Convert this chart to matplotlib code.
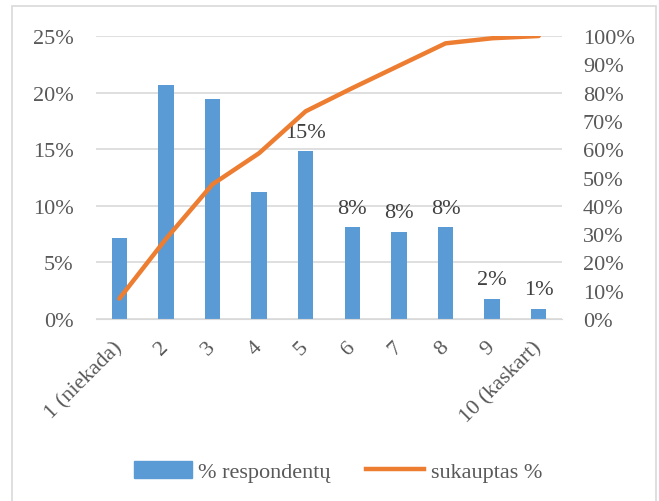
import numpy as np
import matplotlib
matplotlib.use("Agg")
import matplotlib.pyplot as plt
from matplotlib.patches import Rectangle
from matplotlib.lines import Line2D
from matplotlib.patches import Patch

# Survey answers on a 1-10 scale
categories = ["1 (niekada)", "2", "3", "4", "5", "6", "7", "8", "9", "10 (kaskart)"]
share = [7.2, 20.7, 19.4, 11.2, 14.8, 8.1, 7.7, 8.1, 1.8, 0.9]
cumulative = [7.2, 28.3, 47.6, 58.6, 73.4, 81.6, 89.5, 97.4, 99.2, 100.0]
labelled = [4, 5, 6, 7, 8, 9]  # bars that carry a value label

bar_color = "#5B9BD5"
line_color = "#ED7D31"
text_color = "#595959"
grid_color = "#D9D9D9"

plt.rcParams["font.family"] = ["Liberation Serif", "DejaVu Serif"]
plt.rcParams["font.size"] = 16

fig = plt.figure(figsize=(6.59, 5.02), dpi=100)
ax = fig.add_axes([0.1457, 0.3625, 0.7071, 0.5638])

# outer chart frame
fig.patches.append(Rectangle((12 / 659, -0.01), 644 / 659, 1 - 7 / 502 + 0.01,
                             transform=fig.transFigure, fill=False,
                             edgecolor=grid_color, linewidth=1.2))

x = np.arange(len(categories))
ax.bar(x, share, width=0.33, color=bar_color, zorder=2)
ax.set_xlim(-0.5, len(categories) - 0.5)
ax.set_ylim(0, 25)
ax.set_yticks(np.arange(0, 26, 5))
ax.set_yticklabels([f"{v}%" for v in range(0, 26, 5)])
ax.yaxis.grid(True, color=grid_color, linewidth=1.2, zorder=0)
ax.set_axisbelow(True)
for s in ax.spines.values():
    s.set_visible(False)
ax.spines["bottom"].set_visible(True)
ax.spines["bottom"].set_color(grid_color)
ax.tick_params(axis="y", length=0, pad=16, colors=text_color)
ax.set_xticks(x)
ax.set_xticklabels(categories, rotation=45, ha="right", rotation_mode="anchor", va="center")
ax.tick_params(axis="x", length=0, pad=18, colors=text_color)

for i in labelled:
    ax.annotate(f"{share[i]:.0f}%", (x[i], share[i]), xytext=(0, 7),
                textcoords="offset points", ha="center", va="bottom",
                color="#404040")

ax2 = ax.twinx()
ax2.plot(x, cumulative, color=line_color, linewidth=3.2, solid_capstyle="round", zorder=3)
ax2.set_ylim(0, 100)
ax2.set_yticks(np.arange(0, 101, 10))
ax2.set_yticklabels([f"{v}%" for v in range(0, 101, 10)])
ax2.tick_params(axis="y", length=0, pad=15, colors=text_color)
for s in ax2.spines.values():
    s.set_visible(False)

handles = [Patch(color=bar_color), Line2D([], [], color=line_color, linewidth=3.2)]
fig.legend(handles, ["% respondentų", "sukauptas %"], loc="center",
           bbox_to_anchor=(0.513, 0.058), ncol=2, frameon=False,
           labelcolor=text_color, handlelength=2.6, handleheight=0.8,
           columnspacing=1.6, handletextpad=0.3)

fig.savefig("out.png", dpi=100)
